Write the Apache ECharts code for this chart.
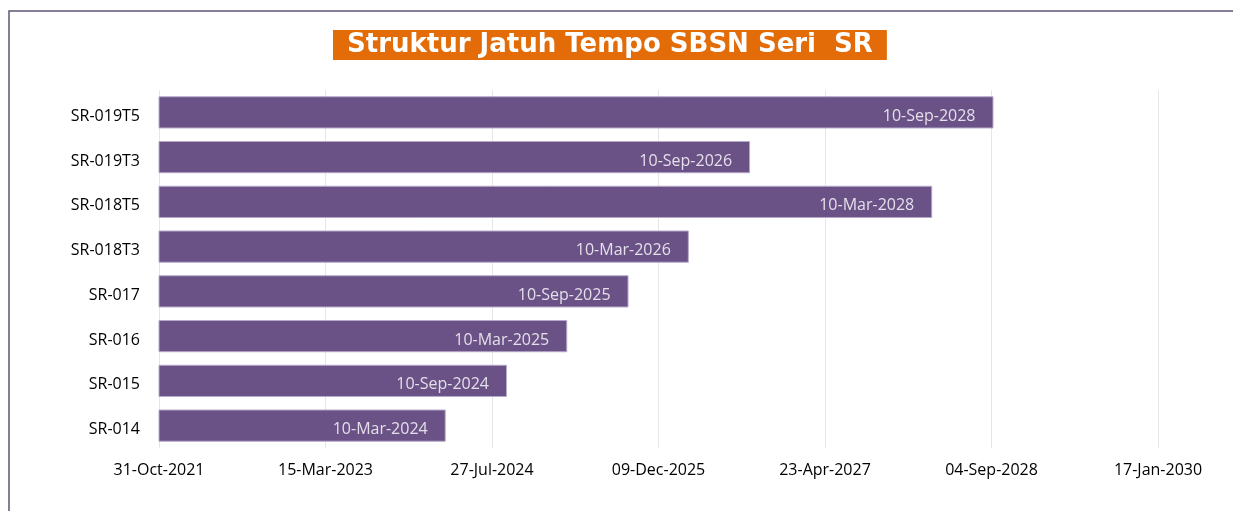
<!DOCTYPE html>
<html>
<head>
<meta charset="utf-8">
<script src="https://cdn.jsdelivr.net/npm/echarts@6/dist/echarts.min.js"></script>
<style>
html, body { margin: 0; padding: 0; background: #fff; }
#chart { width: 1233px; height: 511px; }
</style>
</head>
<body>
<div id="chart"></div>
<script>
// series names (bottom to top) and maturity dates
var series = ['SR-014', 'SR-015', 'SR-016', 'SR-017', 'SR-018T3', 'SR-018T5', 'SR-019T3', 'SR-019T5'];
var maturity = ['2024-03-10', '2024-09-10', '2025-03-10', '2025-09-10', '2026-03-10', '2028-03-10', '2026-09-10', '2028-09-10'];
// axis range as Excel day serials: 31-Oct-2021 .. 17-Jan-2030, step 500 days
var axisMin = 44500, axisMax = 47500, axisStep = 500;

var MONTHS = ['Jan','Feb','Mar','Apr','May','Jun','Jul','Aug','Sep','Oct','Nov','Dec'];
var EPOCH = Date.UTC(1899, 11, 30);
function toSerial(s) {
    var p = s.split('-');
    return Math.round((Date.UTC(+p[0], +p[1] - 1, +p[2]) - EPOCH) / 86400000);
}
function fmt(serial) {
    var d = new Date(EPOCH + serial * 86400000);
    var dd = d.getUTCDate();
    return (dd < 10 ? '0' + dd : dd) + '-' + MONTHS[d.getUTCMonth()] + '-' + d.getUTCFullYear();
}
var values = maturity.map(toSerial);

var chart = echarts.init(document.getElementById('chart'));
var option = {
    backgroundColor: '#fff',
    animation: false,
    title: {
        text: 'Struktur Jatuh Tempo SBSN Seri  SR',
        left: 333,
        top: 30,
        padding: [1, 14, 0, 14],
        backgroundColor: '#e36c09',
        textStyle: { color: '#fff', fontFamily: 'DejaVu Sans', fontWeight: 'bold', fontSize: 26, lineHeight: 29 }
    },
    graphic: [{
        type: 'rect',
        shape: { x: 9, y: 11, width: 1400, height: 700 },
        style: { fill: 'none', stroke: '#5f5473', lineWidth: 1.5 },
        silent: true
    }],
    grid: { left: 159, right: 75, top: 90, bottom: 63, containLabel: false },
    xAxis: {
        type: 'value',
        min: axisMin,
        max: axisMax,
        interval: axisStep,
        axisLine: { show: false },
        axisTick: { show: false },
        splitLine: { show: true, lineStyle: { color: '#e6e6e6', width: 1 } },
        axisLabel: {
            formatter: fmt,
            color: '#000',
            fontFamily: 'Open Sans',
            fontSize: 16,
            margin: 14
        }
    },
    yAxis: {
        type: 'category',
        data: series,
        axisLine: { show: false },
        axisTick: { show: false },
        axisLabel: {
            margin: 19,
            formatter: function (v) { return '{a|' + v + '}'; },
            rich: { a: { color: '#000', fontFamily: 'Open Sans', fontSize: 16, padding: [8, 0, 0, 0] } }
        }
    },
    series: [{
        type: 'bar',
        data: values,
        barCategoryGap: '28%',
        clip: true,
        itemStyle: { color: '#6a5286', borderColor: '#b7a9c9', borderWidth: 1 },
        label: {
            show: true,
            position: 'insideRight',
            distance: 18,
            offset: [0, 4],
            formatter: function (p) { return fmt(p.value); },
            color: '#e4dfea',
            fontFamily: 'Open Sans',
            fontSize: 16
        }
    }]
};
chart.setOption(option);
</script>
</body>
</html>
